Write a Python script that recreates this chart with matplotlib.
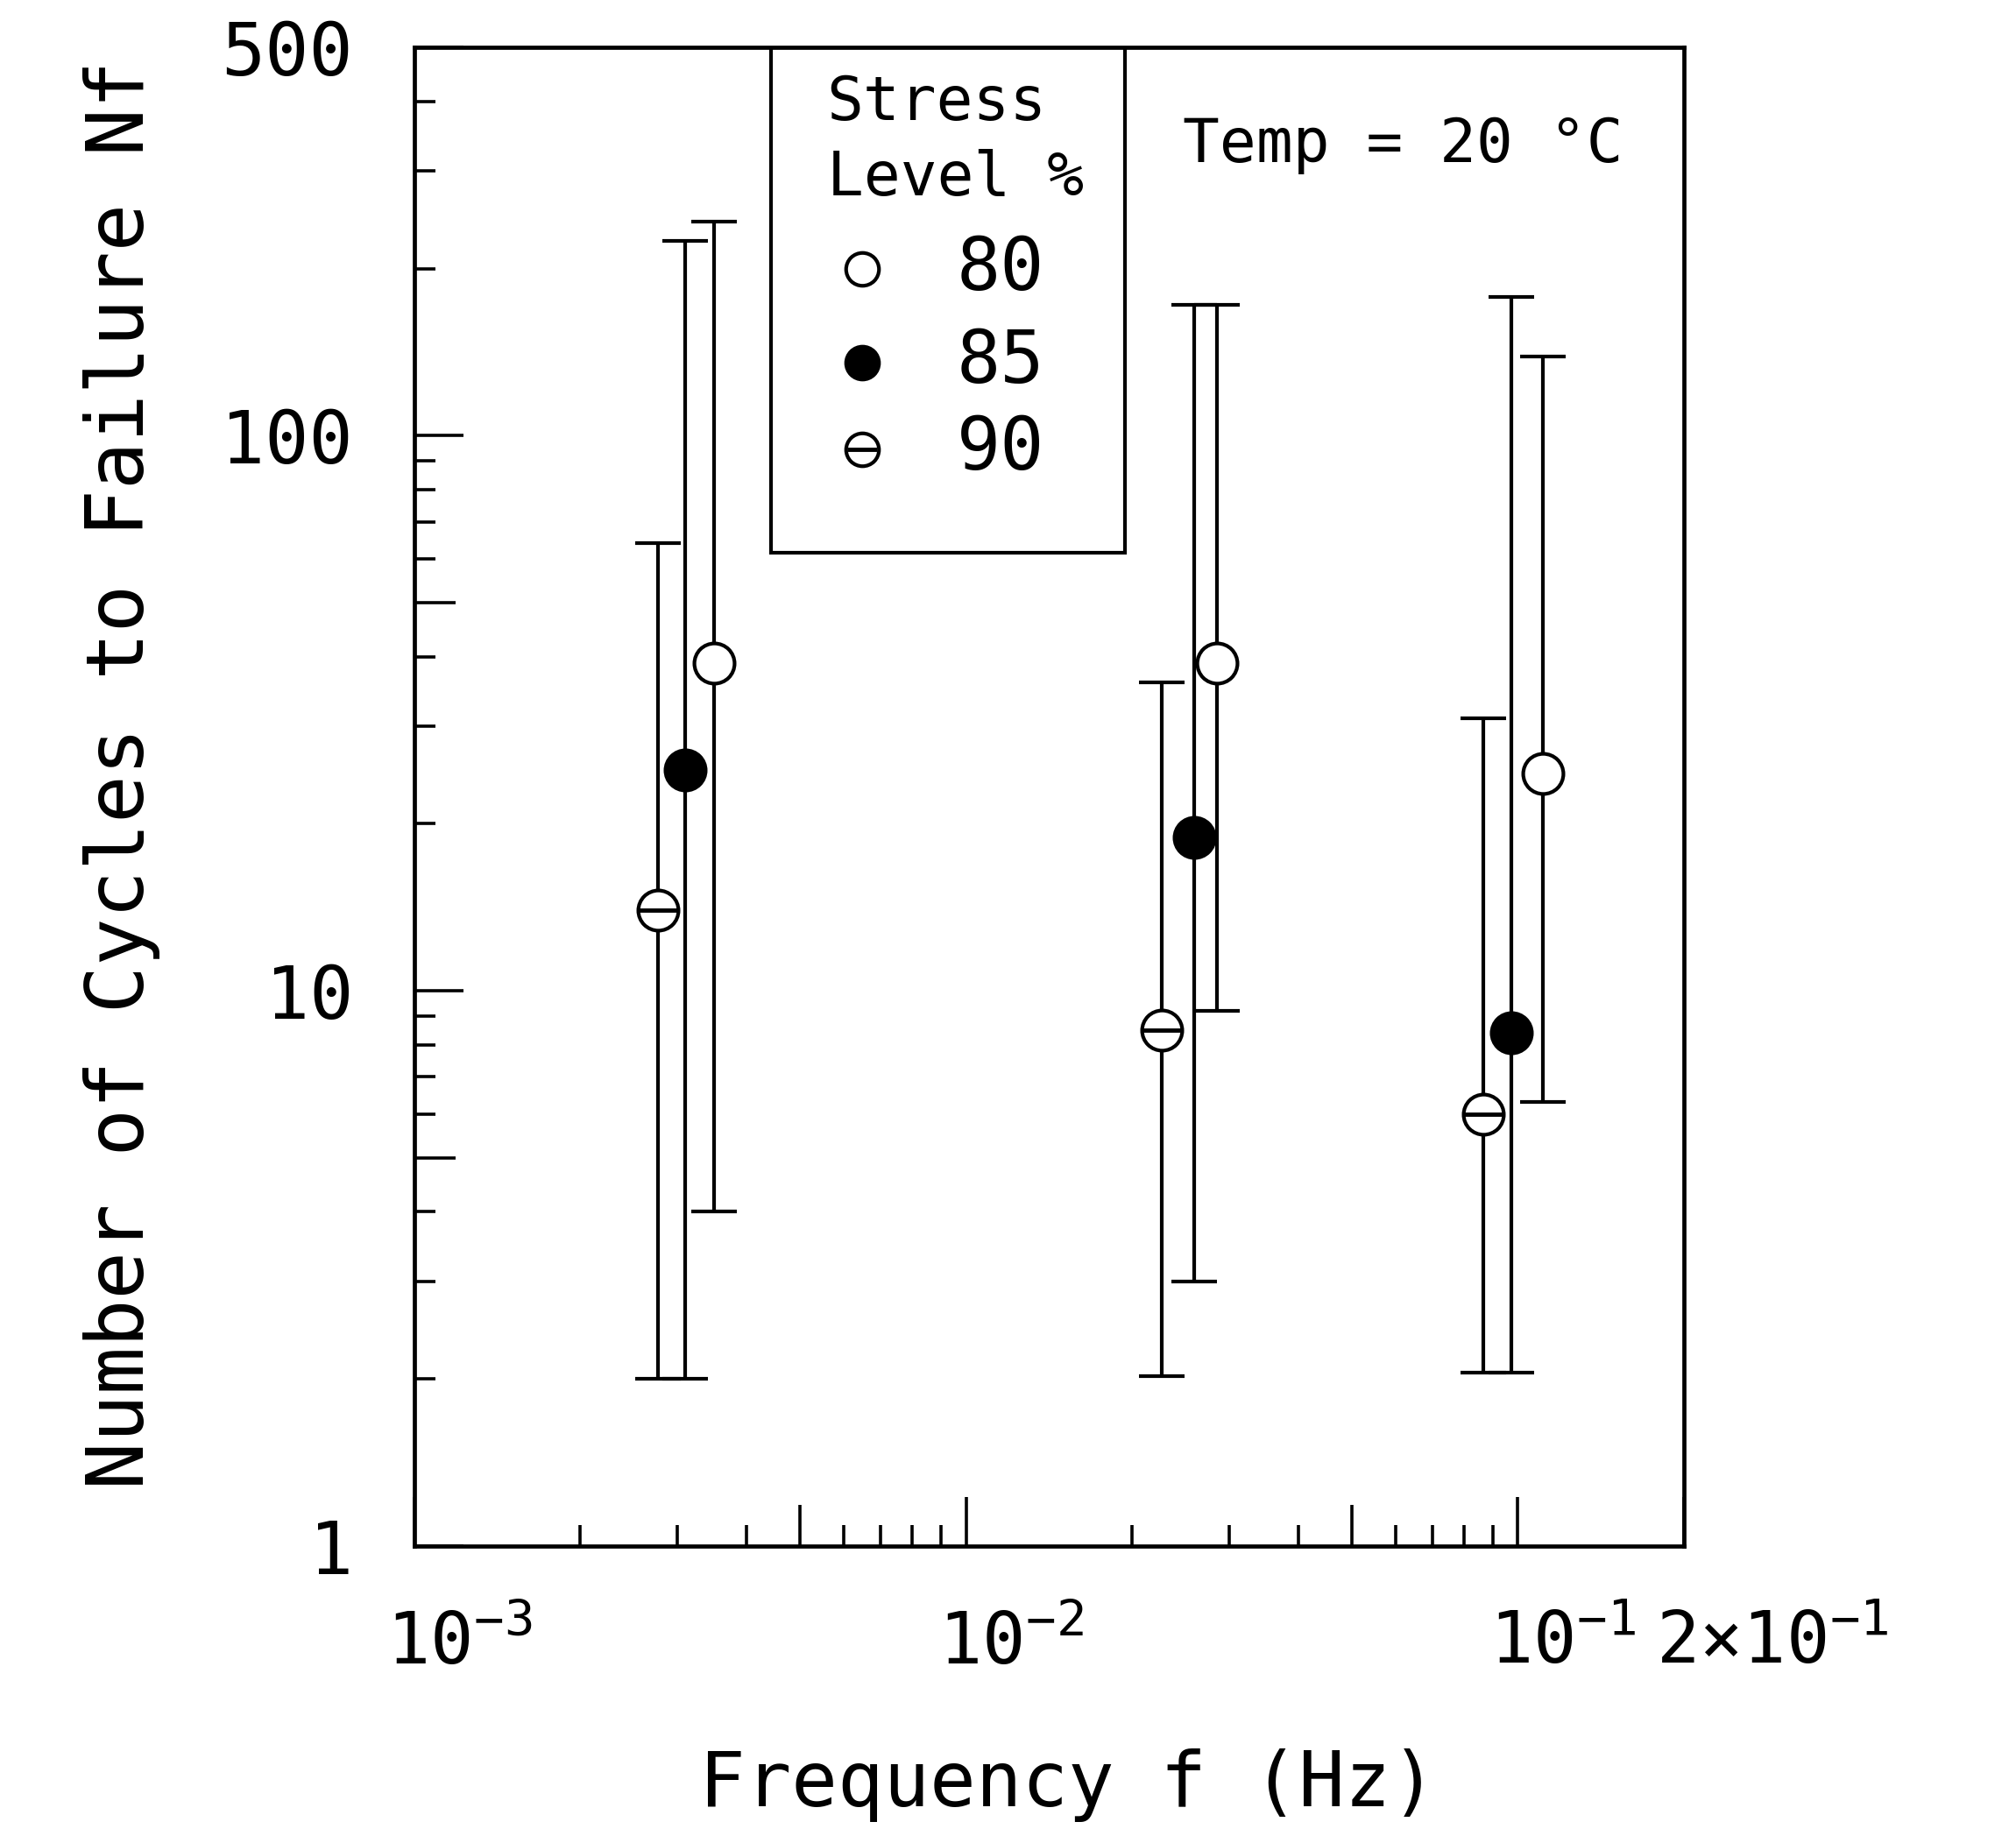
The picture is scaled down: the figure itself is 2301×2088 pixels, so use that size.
import math
import matplotlib.pyplot as plt
from matplotlib.ticker import FixedLocator, NullFormatter
from matplotlib.transforms import ScaledTranslation

plt.rcParams['font.family'] = 'DejaVu Sans Mono'
plt.rcParams['mathtext.fontset'] = 'custom'
plt.rcParams['mathtext.rm'] = 'DejaVu Sans Mono'
plt.rcParams['mathtext.it'] = 'DejaVu Sans Mono'

# frequency (Hz), mean Nf and the min / max of each set
freq_80 = [0.0035, 0.0285, 0.111]
nf_80 = [39, 39, 24.6]
lo_80 = [4.0, 9.2, 6.3]
hi_80 = [243, 172, 139]

freq_85 = [0.0031, 0.0259, 0.0973]
nf_85 = [25, 18.9, 8.4]
lo_85 = [2.0, 3.0, 2.05]
hi_85 = [224, 172, 178]

freq_90 = [0.00277, 0.0226, 0.0865]
nf_90 = [14, 8.5, 6.0]
lo_90 = [2.0, 2.02, 2.05]
hi_90 = [64, 36, 31]

xticks = [1e-3, 1e-2, 1e-1, 2e-1]
xticklabels = [r'$10^{-3}$', r'$10^{-2}$', r'$10^{-1}$', r'$2{\times}10^{-1}$']
yticks = [1, 10, 100, 500]

fig = plt.figure(figsize=(23.01, 20.88), dpi=100)
ax = fig.add_axes([0.2054, 0.1547, 0.6299, 0.8193])
ax.set_xscale('log')
ax.set_yscale('log')
ax.set_xlim(1e-3, 2e-1)
ax.set_ylim(1, 500)

lw = 3.0
ms = 33


def bars(x, y, lo, hi):
    err = [[yy - l for yy, l in zip(y, lo)], [h - yy for yy, h in zip(y, hi)]]
    ax.errorbar(x, y, yerr=err, fmt='none', ecolor='black', elinewidth=lw,
                capsize=19, capthick=lw, zorder=2)


def theta(x, y, size, **kw):
    # open circle with a bar through it
    ax.plot(x, y, 'o', ms=size, mfc='white', mec='black', mew=lw, zorder=4, **kw)
    ax.plot(x, y, '_', ms=size - 2, mec='black', mew=lw + 0.5, zorder=5, **kw)


bars(freq_90, nf_90, lo_90, hi_90)
bars(freq_85, nf_85, lo_85, hi_85)
bars(freq_80, nf_80, lo_80, hi_80)

ax.plot(freq_80, nf_80, 'o', ms=ms, mfc='white', mec='black', mew=lw, zorder=4)
ax.plot(freq_85, nf_85, 'o', ms=ms, mfc='black', mec='black', mew=lw, zorder=4)
theta(freq_90, nf_90, ms)

# ticks inside, on bottom and left only
for s in ax.spines.values():
    s.set_linewidth(3.4)
ax.tick_params(which='both', direction='in', top=False, right=False,
               width=2.6, colors='black')
ax.tick_params(which='major', length=40)
ax.tick_params(which='minor', length=17)
ax.tick_params(axis='x', which='major', pad=52, labelsize=59)
ax.tick_params(axis='y', which='major', pad=50, labelsize=60)


def mantissa(v):
    return round(v / 10 ** math.floor(math.log10(v) + 1e-9))


minor_x = [m * 10.0 ** e for e in (-3, -2, -1) for m in range(2, 10)]
minor_x = [v for v in minor_x if 1e-3 < v < 1.99e-1]
ax.xaxis.set_major_locator(FixedLocator(xticks))
ax.xaxis.set_minor_locator(FixedLocator(minor_x))
ax.set_xticklabels(xticklabels)
ax.xaxis.set_minor_formatter(NullFormatter())

minor_y = [m * 10.0 ** e for e in (0, 1, 2) for m in range(2, 10)]
minor_y = [v for v in minor_y if 1 < v < 500]
ax.yaxis.set_major_locator(FixedLocator(yticks))
ax.yaxis.set_minor_locator(FixedLocator(minor_y))
ax.set_yticklabels([str(v) for v in yticks])
ax.yaxis.set_minor_formatter(NullFormatter())

# the 5-ticks are drawn longer
for t, v in zip(ax.xaxis.get_minor_ticks(), minor_x):
    if mantissa(v) == 5:
        t.tick1line.set_markersize(34)
for t, v in zip(ax.yaxis.get_minor_ticks(), minor_y):
    if mantissa(v) == 5:
        t.tick1line.set_markersize(34)

shift = ScaledTranslation(-0.32, 0, fig.dpi_scale_trans)
for lab in ax.get_xticklabels():
    lab.set_horizontalalignment('left')
    lab.set_transform(lab.get_transform() + shift)

ax.set_xlabel('Frequency f (Hz)', fontsize=63, va='top')
ax.xaxis.set_label_coords(0.515, -0.135)
ax.set_ylabel('Number of Cycles to Failure Nf', fontsize=65)
ax.yaxis.set_label_coords(-0.2, 0.515)

# legend box
ax.add_patch(plt.Rectangle((0.281, 0.663), 0.279, 0.337, transform=ax.transAxes,
                           fill=False, edgecolor='black', linewidth=3, zorder=6))
ax.text(0.325, 0.963, 'Stress', transform=ax.transAxes, fontsize=50, va='center', ha='left')
ax.text(0.325, 0.913, 'Level %', transform=ax.transAxes, fontsize=50, va='center', ha='left')
leg_y = [0.852, 0.790, 0.732]
leg_lab = ['80', '85', '90']
ax.plot([0.353], [leg_y[0]], 'o', ms=27, mfc='white', mec='black', mew=lw, transform=ax.transAxes)
ax.plot([0.353], [leg_y[1]], 'o', ms=27, mfc='black', mec='black', mew=lw, transform=ax.transAxes)
theta([0.353], [leg_y[2]], 27, transform=ax.transAxes)
for yy, lab in zip(leg_y, leg_lab):
    ax.text(0.462, yy, lab, transform=ax.transAxes, fontsize=60, va='center', ha='center')

ax.text(0.605, 0.935, 'Temp = 20 °C', transform=ax.transAxes, fontsize=50, va='center', ha='left')

fig.savefig('out.png', dpi=100)
